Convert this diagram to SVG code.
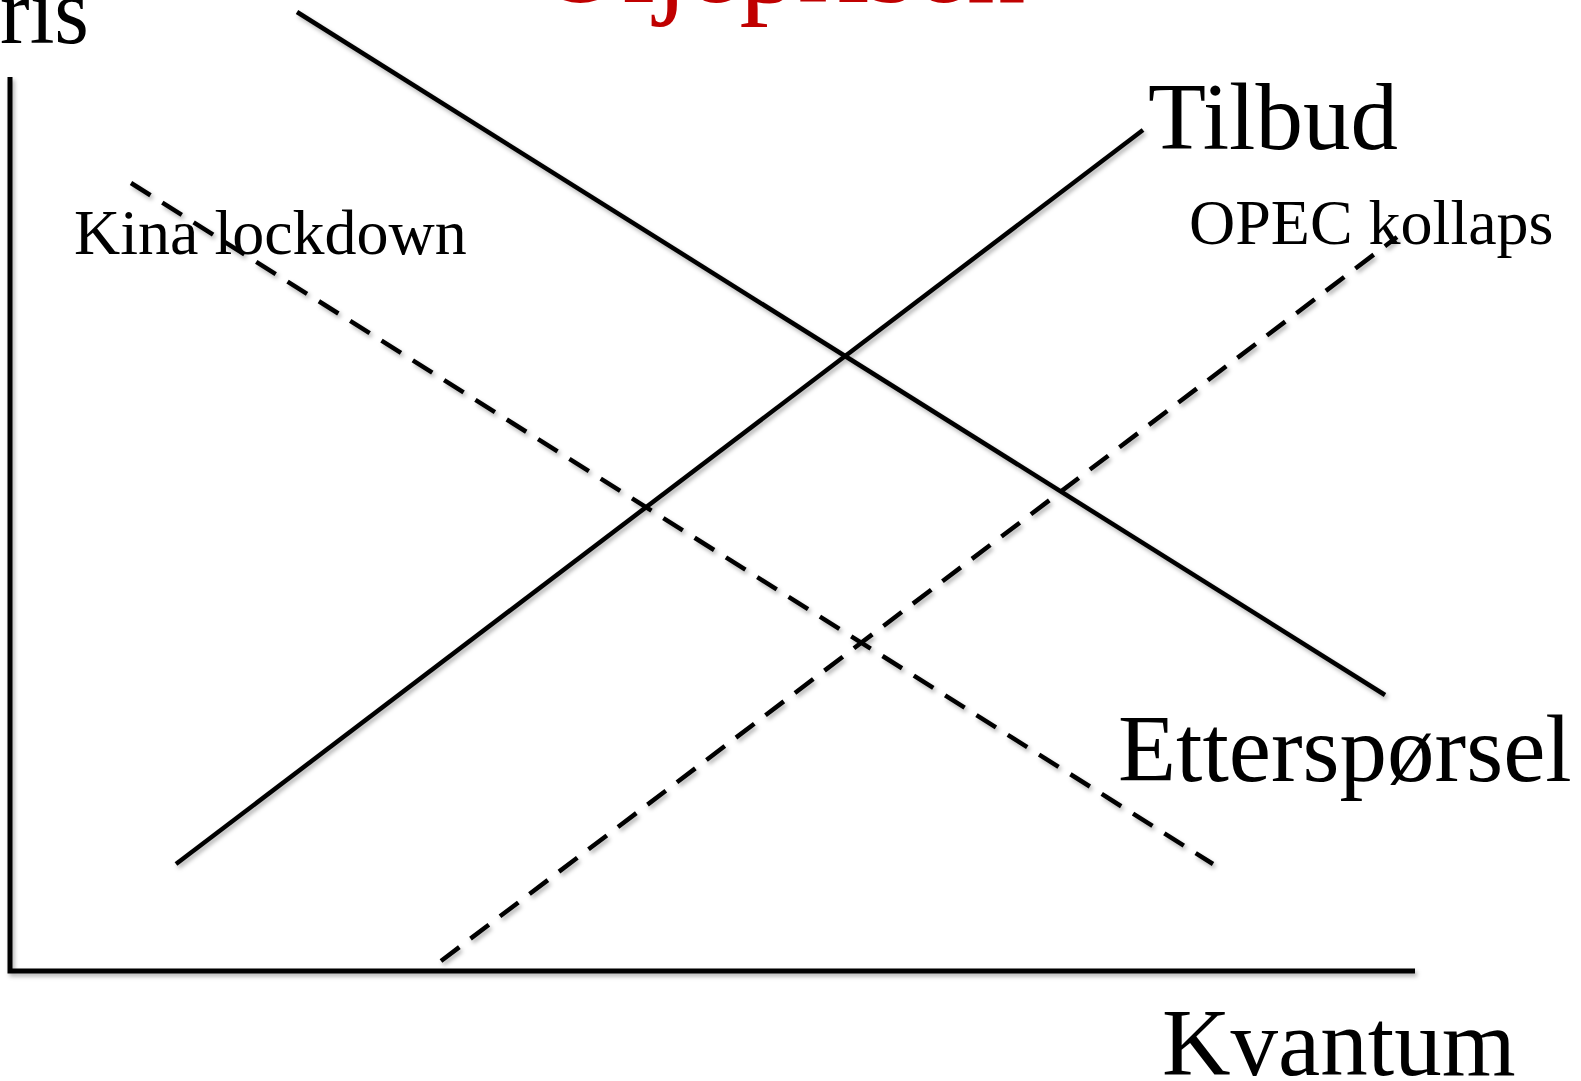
<svg xmlns="http://www.w3.org/2000/svg" width="1581" height="1081" viewBox="0 0 1581 1081">
<defs>
<style>
.ln{stroke:#000;stroke-width:4.5;fill:none;stroke-linecap:butt}
.ax{stroke:#000;stroke-width:5;fill:none}
.dash{stroke-dasharray:23 14}
.t{font-family:"Liberation Serif","Times New Roman",serif;fill:#000}
.big{font-size:95px}
.small{font-size:64px}
.title{font-size:117px;fill:#C00000}
</style>
<filter id="sh" x="-5%" y="-5%" width="110%" height="110%">
<feDropShadow dx="2" dy="3" stdDeviation="2" flood-color="#000" flood-opacity="0.3"/>
</filter>
</defs>
<rect width="1581" height="1081" fill="#fff"/>
<g id="title"><text class="t title" x="538" y="2">Oljeprisen</text></g>
<g id="connectors" filter="url(#sh)">
<polyline id="axes" class="ax" points="10,77 10,971 1415,971"/>
<line id="demand" class="ln" x1="297" y1="12" x2="1385" y2="695"/>
<line id="supply" class="ln" x1="176" y1="864" x2="1143" y2="130"/>
<line id="demand-shift" class="ln dash" x1="131" y1="183" x2="1213" y2="864"/>
<line id="supply-shift" class="ln dash" x1="441" y1="961" x2="1397" y2="237"/>
</g>
<g id="label-pris"><text class="t big" x="0" y="43" textLength="89" lengthAdjust="spacingAndGlyphs">ris</text></g>
<g id="label-tilbud"><text class="t big" x="1148" y="149">Tilbud</text></g>
<g id="label-opec"><text class="t small" x="1189" y="244">OPEC kollaps</text></g>
<g id="label-kina"><text class="t small" x="74" y="254">Kina lockdown</text></g>
<g id="label-etterspoersel"><text class="t big" x="1118" y="781">Etterspørsel</text></g>
<g id="label-kvantum"><text class="t big" x="1162" y="1075">Kvantum</text></g>
</svg>
